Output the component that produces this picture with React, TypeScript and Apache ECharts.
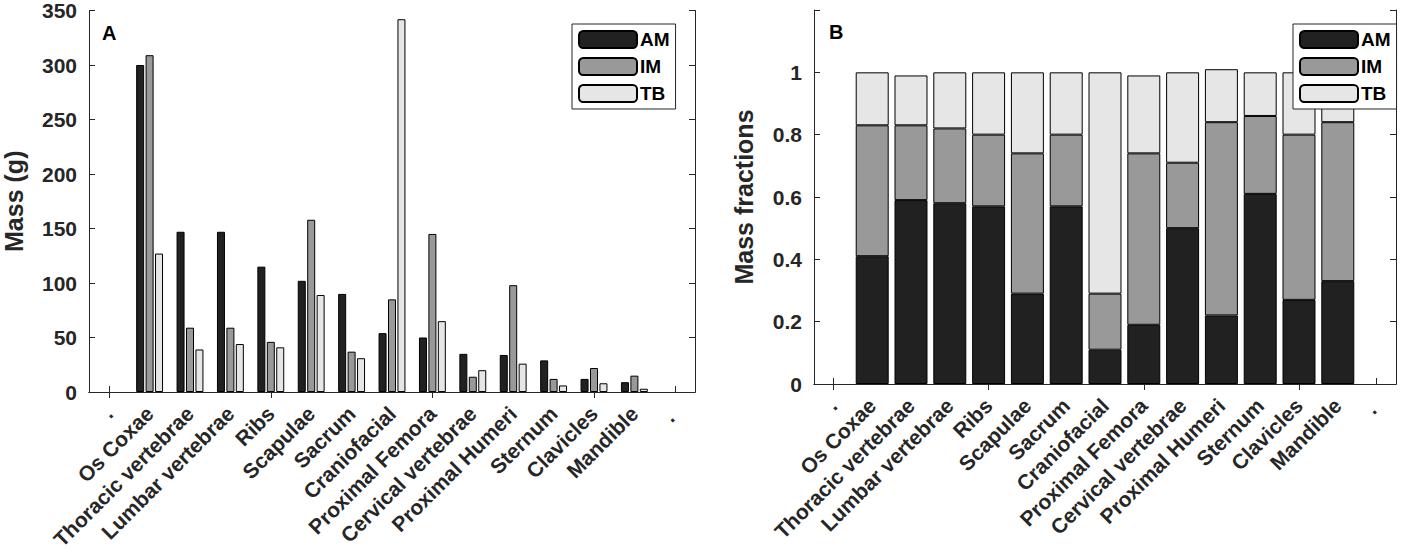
import React, { useEffect, useRef } from "react";
import * as echarts from "echarts";

const bones = [
  "Os Coxae", "Thoracic vertebrae", "Lumbar vertebrae", "Ribs", "Scapulae", "Sacrum",
  "Craniofacial", "Proximal Femora", "Cervical vertebrae", "Proximal Humeri", "Sternum",
  "Clavicles", "Mandible",
];
const categories = [".", ...bones, ". "];
const seriesNames = ["AM", "IM", "TB"];

// Panel A: mass (g)
const massAM = [300, 147, 147, 115, 102, 90, 54, 50, 35, 34, 29, 12, 9];
const massIM = [309, 59, 59, 46, 158, 37, 85, 145, 14, 98, 12, 22, 15];
const massTB = [127, 39, 44, 41, 89, 31, 342, 65, 20, 26, 6, 8, 3];

// Panel B: mass fractions (stacked)
const fracAM = [0.41, 0.59, 0.58, 0.57, 0.29, 0.57, 0.11, 0.19, 0.50, 0.22, 0.61, 0.27, 0.33];
const fracIM = [0.42, 0.24, 0.24, 0.23, 0.45, 0.23, 0.18, 0.55, 0.21, 0.62, 0.25, 0.53, 0.51];
const fracTB = [0.17, 0.16, 0.18, 0.20, 0.26, 0.20, 0.71, 0.25, 0.29, 0.17, 0.14, 0.20, 0.16];

const yTicksA = { min: 0, max: 350, interval: 50 };
const yTicksB = { min: 0, max: 1.2, interval: 0.2 };

const colors = ["#212121", "#999999", "#e6e6e6"];
const FONT = "'Liberation Sans', Arial, Helvetica, sans-serif";
const AX = "#262626";

const pad = (arr: number[]) => ["-", ...arr, "-"];

export default function App() {
  const ref = useRef<HTMLDivElement>(null);
  useEffect(() => {
    document.body.style.margin = "0";
    const chart = echarts.init(ref.current!, null, { renderer: "svg" });

    const axisLine = { show: true, lineStyle: { color: AX, width: 1 } };
    const tick = { show: true, inside: true, length: 6, alignWithLabel: true, lineStyle: { color: AX } };
    const yTick = { show: true, inside: true, length: 6, lineStyle: { color: AX } };

    const xBottom = (gridIndex: number) => ({
      type: "category",
      gridIndex,
      position: "bottom",
      data: categories,
      boundaryGap: true,
      axisLine,
      axisTick: tick,
      axisLabel: {
        interval: 0,
        rotate: 45,
        margin: 18,
        padding: [33, 0, 0, 0],
        fontFamily: FONT,
        fontWeight: "bold",
        fontSize: 21,
        color: AX,
      },
      splitLine: { show: false },
    });
    const xTop = (gridIndex: number) => ({
      type: "category",
      gridIndex,
      position: "top",
      data: categories,
      boundaryGap: true,
      axisLine,
      axisTick: tick,
      axisLabel: { show: false },
      splitLine: { show: false },
    });

    const yLeft = (gridIndex: number, t: any, name: string, gap: number, fmt?: any) => ({
      type: "value",
      gridIndex,
      position: "left",
      min: t.min,
      max: t.max,
      interval: t.interval,
      name,
      nameLocation: "middle",
      nameGap: gap,
      nameTextStyle: { fontFamily: FONT, fontWeight: "bold", fontSize: 25, color: AX },
      axisLine,
      axisTick: yTick,
      axisLabel: { fontFamily: FONT, fontWeight: "bold", fontSize: 21, color: AX, margin: 12, formatter: fmt },
      splitLine: { show: false },
    });
    const yRight = (gridIndex: number, t: any) => ({
      type: "value",
      gridIndex,
      position: "right",
      min: t.min,
      max: t.max,
      interval: t.interval,
      axisLine,
      axisTick: yTick,
      axisLabel: { show: false },
      splitLine: { show: false },
    });

    const barA = (name: string, data: number[], i: number) => ({
      type: "bar",
      name,
      xAxisIndex: 0,
      yAxisIndex: 0,
      data: pad(data),
      barWidth: 8,
      barGap: "18%",
      itemStyle: { color: colors[i], borderColor: "#000", borderWidth: 1 },
    });
    const barB = (name: string, data: number[], i: number) => ({
      type: "bar",
      name,
      xAxisIndex: 2,
      yAxisIndex: 2,
      stack: "frac",
      data: pad(data),
      barCategoryGap: "15%",
      itemStyle: { color: colors[i], borderColor: "#000", borderWidth: 1 },
    });

    const legend = (left: number) => ({
      data: seriesNames,
      orient: "vertical",
      left,
      top: 24,
      itemWidth: 58,
      itemHeight: 17,
      itemGap: 8,
      padding: [6, 6, 6, 6],
      borderColor: AX,
      borderWidth: 1,
      backgroundColor: "#fff",
      selectedMode: false,
      textStyle: { fontFamily: FONT, fontWeight: "bold", fontSize: 19, color: "#000", padding: [0, 0, 0, -2] },
    });

    const fmtB = (v: number) => (v > 1.01 ? "" : String(Math.round(v * 10) / 10));

    chart.setOption({
      animation: false,
      backgroundColor: "#fff",
      grid: [
        { left: 86, right: 1416 - 695, top: 10, bottom: 559 - 392 },
        { left: 814, right: 1416 - 1396, top: 10, bottom: 559 - 384 },
      ],
      xAxis: [xBottom(0), xTop(0), xBottom(1), xTop(1)],
      yAxis: [
        yLeft(0, yTicksA, "Mass (g)", 63),
        yRight(0, yTicksA),
        yLeft(1, yTicksB, "Mass fractions", 58, fmtB),
        yRight(1, yTicksB),
      ],
      legend: [legend(572), legend(1293)],
      series: [
        barA(seriesNames[0], massAM, 0),
        barA(seriesNames[1], massIM, 1),
        barA(seriesNames[2], massTB, 2),
        barB(seriesNames[0], fracAM, 0),
        barB(seriesNames[1], fracIM, 1),
        barB(seriesNames[2], fracTB, 2),
      ],
      graphic: [
        { type: "text", left: 102, top: 23, style: { text: "A", font: `bold 20px ${FONT}`, fill: "#000" } },
        { type: "text", left: 829, top: 22, style: { text: "B", font: `bold 20px ${FONT}`, fill: "#000" } },
      ],
    });
    return () => chart.dispose();
  }, []);
  return <div ref={ref} style={{ width: 1416, height: 559 }} />;
}
